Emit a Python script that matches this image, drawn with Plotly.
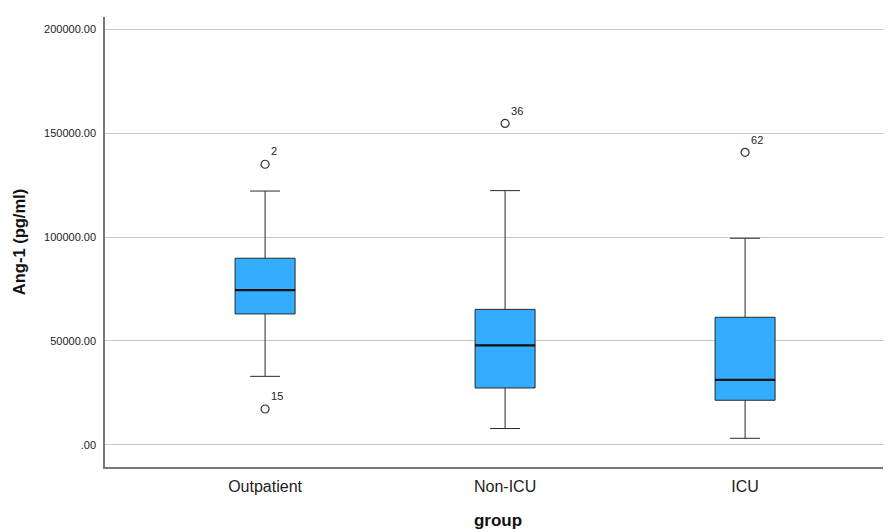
import plotly.graph_objects as go

categories = ["Outpatient", "Non-ICU", "ICU"]
q1 = [63000, 27400, 21500]
median = [74500, 47900, 31250]
q3 = [89800, 65200, 61400]
lower_whisker = [33000, 7900, 3200]
upper_whisker = [122100, 122300, 99400]
outlier_group = [0, 0, 1, 2]
outlier_values = [135000, 17300, 154600, 140700]
outlier_labels = ["2", "15", "36", "62"]
ytick_vals = [0, 50000, 100000, 150000, 200000]
ytick_text = [".00", "50000.00", "100000.00", "150000.00", "200000.00"]

xpos = list(range(len(categories)))
box_w = 0.25

fig = go.Figure()
fig.add_trace(go.Box(
    x=xpos, q1=q1, median=median, q3=q3,
    lowerfence=lower_whisker, upperfence=upper_whisker,
    width=box_w, whiskerwidth=0.5,
    fillcolor="#33adff", line=dict(color="#2a2a2a", width=1),
    boxpoints=False, hoverinfo="skip", showlegend=False,
))
for i in xpos:
    fig.add_trace(go.Scatter(
        x=[i - box_w / 2, i + box_w / 2], y=[median[i], median[i]],
        mode="lines", line=dict(color="#111111", width=2.2),
        showlegend=False, hoverinfo="skip",
    ))
fig.add_trace(go.Scatter(
    x=outlier_group, y=outlier_values, mode="markers+text",
    marker=dict(symbol="circle-open", size=8, color="#333333", line=dict(width=1.2)),
    text=outlier_labels, textposition="top right",
    textfont=dict(size=11, color="#222222"),
    showlegend=False, hoverinfo="skip",
))

fig.update_layout(
    width=883, height=522,
    margin=dict(l=97, r=0, t=9, b=63),
    paper_bgcolor="white", plot_bgcolor="white",
    font=dict(family="Liberation Sans, Arial, sans-serif", color="#222222"),
)
fig.update_xaxes(
    range=[-0.667, 2.608], tickvals=xpos, ticktext=categories,
    tickfont=dict(size=16, color="#222222"), showgrid=False, zeroline=False,
    showline=True, linecolor="#777777", linewidth=1.5, ticks="",
    ticklabelstandoff=4,
    title=dict(text="<b>group</b>", font=dict(size=17, color="#111111"), standoff=20),
)
fig.update_yaxes(
    range=[-10600, 205800], tickvals=ytick_vals, ticktext=ytick_text,
    tickfont=dict(size=11, color="#222222"), showgrid=True, gridcolor="#c8c8c8",
    gridwidth=1, zeroline=False, showline=True, linecolor="#777777", linewidth=1.5,
    ticks="", ticklabelstandoff=5,
    title=dict(text="<b>Ang-1 (pg/ml)</b>", font=dict(size=16.5, color="#111111"), standoff=14),
)

fig.write_html("out.html")
